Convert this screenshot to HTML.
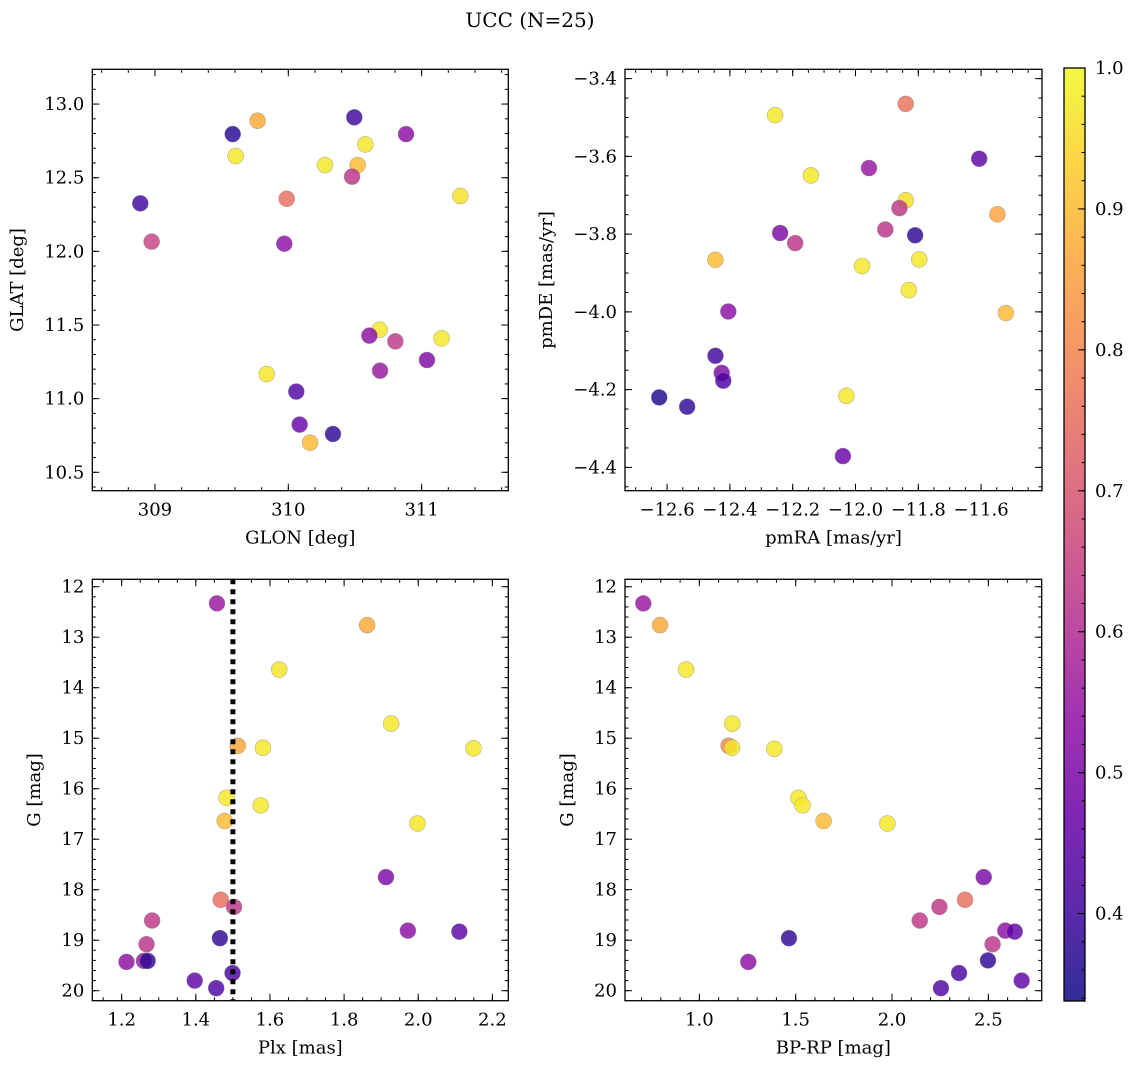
<!DOCTYPE html>
<html><head><meta charset="utf-8"><style>
html,body{margin:0;padding:0;background:#fff;}
svg{display:block;font-family:"DejaVu Serif","Liberation Serif",serif;}
</style></head><body>
<svg id="fig" width="1136" height="1068" viewBox="0 0 1136 1068" xmlns="http://www.w3.org/2000/svg">
<text x="530" y="27" text-anchor="middle" font-size="20">UCC (N=25)</text>
</svg>
<script>
// ---- data ----
const tlGlon=[309.583,309.770,309.605,310.495,310.883,310.578,310.275,310.520,310.478,309.988,311.290,308.890,308.975,309.970,310.685,310.608,310.803,311.150,310.688,311.040,309.838,310.060,310.085,310.335,310.163];
const tlGlat=[12.796,12.887,12.647,12.910,12.796,12.726,12.586,12.586,12.507,12.357,12.376,12.326,12.066,12.052,11.468,11.428,11.389,11.409,11.190,11.262,11.167,11.048,10.824,10.760,10.701];
const tlProb=[0.37,0.87,0.97,0.40,0.53,0.97,0.97,0.90,0.62,0.75,0.96,0.40,0.65,0.53,0.97,0.53,0.63,0.97,0.55,0.50,0.97,0.43,0.47,0.38,0.90];

const trPmra=[-11.84,-12.256,-11.606,-11.957,-12.142,-11.84,-11.86,-11.548,-11.905,-11.81,-12.24,-12.192,-12.446,-11.979,-11.797,-11.83,-12.405,-11.521,-12.446,-12.426,-12.421,-12.029,-12.625,-12.536,-12.04];
const trPmde=[-3.465,-3.494,-3.606,-3.630,-3.649,-3.713,-3.733,-3.749,-3.788,-3.803,-3.797,-3.823,-3.866,-3.882,-3.865,-3.944,-3.999,-4.003,-4.113,-4.157,-4.177,-4.216,-4.220,-4.244,-4.371];
const trProb=[0.76,0.97,0.45,0.55,0.97,0.96,0.63,0.86,0.62,0.38,0.50,0.62,0.90,0.97,0.97,0.97,0.53,0.90,0.40,0.50,0.42,0.97,0.36,0.38,0.47];

const blPlx=[1.457,1.862,1.625,1.927,1.513,1.581,2.149,1.483,1.575,1.478,1.998,1.913,1.467,1.503,1.282,1.972,2.111,1.465,1.267,1.213,1.260,1.270,1.499,1.397,1.455];
const blG=[12.33,12.76,13.64,14.71,15.15,15.19,15.20,16.18,16.33,16.64,16.69,17.75,18.20,18.34,18.61,18.81,18.83,18.96,19.08,19.43,19.41,19.41,19.65,19.80,19.95];
const blProb=[0.55,0.87,0.97,0.97,0.86,0.97,0.97,0.97,0.97,0.90,0.97,0.50,0.75,0.63,0.63,0.53,0.45,0.38,0.62,0.53,0.55,0.38,0.42,0.45,0.43];
const plxLine=[1.5];

const brBprp=[0.709,0.796,0.931,1.171,1.152,1.170,1.389,1.514,1.536,1.645,1.976,2.476,2.379,2.246,2.144,2.588,2.637,1.465,2.522,1.254,2.498,2.348,2.673,2.254];
const brG=[12.33,12.76,13.64,14.71,15.15,15.19,15.21,16.18,16.33,16.64,16.69,17.75,18.20,18.34,18.61,18.81,18.83,18.96,19.08,19.43,19.40,19.65,19.80,19.95];
const brProb=[0.55,0.87,0.97,0.97,0.80,0.97,0.97,0.97,0.97,0.90,0.97,0.50,0.75,0.63,0.63,0.53,0.45,0.38,0.62,0.53,0.38,0.42,0.45,0.43];

const cbTicks=[0.4,0.5,0.6,0.7,0.8,0.9,1.0];
const cbMin=0.338, cbMax=1.0;

// ---- helpers ----
const NS="http://www.w3.org/2000/svg";
const svg=document.getElementById('fig');
function mk(tag,attrs,parent){const e=document.createElementNS(NS,tag);for(const k in attrs)e.setAttribute(k,attrs[k]);(parent||svg).appendChild(e);return e;}
const stops=[[0,'#0d0887'],[0.1,'#41049d'],[0.2,'#6a00a8'],[0.3,'#8f0da4'],[0.4,'#b12a90'],[0.5,'#cc4778'],[0.6,'#e16462'],[0.7,'#f2844b'],[0.8,'#fca636'],[0.9,'#fcce25'],[1,'#f0f921']];
function hex(h){return [parseInt(h.substr(1,2),16),parseInt(h.substr(3,2),16),parseInt(h.substr(5,2),16)];}
function plasma(t){t=Math.max(0,Math.min(1,t));for(let i=1;i<stops.length;i++){if(t<=stops[i][0]){const a=stops[i-1],b=stops[i];const f=(t-a[0])/(b[0]-a[0]);const ca=hex(a[1]),cb=hex(b[1]);return 'rgb('+ca.map((v,j)=>Math.round(v+(cb[j]-v)*f)).join(',')+')';}}return stops[stops.length-1][1];}
function cmap(p){return plasma((p-cbMin)/(cbMax-cbMin));}
function fmt(v,d){let s=v.toFixed(d);return s.replace('-','\u2212');}

function panel(o){
  const g=mk('g',{});
  
  
  const X=v=>o.L+(v-o.x0)/(o.x1-o.x0)*(o.R-o.L);
  const Y=v=>o.inv? o.T+(v-o.y0)/(o.y1-o.y0)*(o.B-o.T) : o.B-(v-o.y0)/(o.y1-o.y0)*(o.B-o.T);
  for(let i=0;i<o.xs.length;i++){
    const c=mk('circle',{cx:X(o.xs[i]),cy:Y(o.ys[i]),r:8,fill:cmap(o.ps[i]),'fill-opacity':0.82,stroke:'#888','stroke-opacity':0.6,'stroke-width':0.6},g);
    
    
  }
  if(o.vline){for(const v of o.vline){const l=mk('line',{x1:X(v),x2:X(v),y1:o.T,y2:o.B,stroke:'#000','stroke-width':5,'stroke-dasharray':'5,5'},g);
    
    }}
  const tk=mk('g',{stroke:'#000','stroke-width':1},g);
  const ticksX=(step,len)=>{let s=Math.ceil(Math.min(o.x0,o.x1)/step-1e-6);for(let k=s;k*step<=Math.max(o.x0,o.x1)+1e-9;k++){const x=X(k*step);mk('line',{x1:x,x2:x,y1:o.B,y2:o.B-len},tk);mk('line',{x1:x,x2:x,y1:o.T,y2:o.T+len},tk);}};
  const ticksY=(step,len)=>{let lo=Math.min(o.y0,o.y1),hi=Math.max(o.y0,o.y1);let s=Math.ceil(lo/step-1e-6);for(let k=s;k*step<=hi+1e-9;k++){const y=Y(k*step);mk('line',{x1:o.L,x2:o.L+len,y1:y,y2:y},tk);mk('line',{x1:o.R,x2:o.R-len,y1:y,y2:y},tk);}};
  ticksX(o.xmin,3.5);ticksX(o.xmaj,7);ticksY(o.ymin,3.5);ticksY(o.ymaj,7);
  mk('rect',{x:o.L,y:o.T,width:o.R-o.L,height:o.B-o.T,fill:'none',stroke:'#000','stroke-width':1.3},g);
  for(const v of o.xl){const t=mk('text',{x:X(v),y:o.B+25,'text-anchor':'middle','font-size':18},g);t.textContent=fmt(v,o.xd);
    }
  for(const v of o.yl){const t=mk('text',{x:o.L-8,y:Y(v)+6,'text-anchor':'end','font-size':18},g);t.textContent=fmt(v,o.yd);
    }
  const xt=mk('text',{x:(o.L+o.R)/2,y:o.B+53,'text-anchor':'middle','font-size':18},g);xt.textContent=o.xlab;
  
  const yc=(o.T+o.B)/2;
  const yt=mk('text',{x:o.ylx,y:yc,'text-anchor':'middle','font-size':18,transform:'rotate(-90 '+o.ylx+' '+yc+')'},g);yt.textContent=o.ylab;
  
}

panel({name:'glon-glat-panel',L:92.3,R:508.3,T:69.3,B:490.7,x0:308.530,x1:311.650,y0:10.375,y1:13.236,
  xs:tlGlon,ys:tlGlat,ps:tlProb,xmaj:1,xmin:0.2,ymaj:0.5,ymin:0.1,xl:[309,310,311],xd:0,yl:[10.5,11,11.5,12,12.5,13],yd:1,xlab:'GLON [deg]',ylab:'GLAT [deg]',ylx:23});
panel({name:'pmra-pmde-panel',L:625,R:1042,T:69.3,B:490.7,x0:-12.734,x1:-11.406,y0:-4.460,y1:-3.376,
  xs:trPmra,ys:trPmde,ps:trProb,xmaj:0.2,xmin:0.05,ymaj:0.2,ymin:0.05,xl:[-12.6,-12.4,-12.2,-12.0,-11.8,-11.6],xd:1,yl:[-4.4,-4.2,-4.0,-3.8,-3.6,-3.4],yd:1,xlab:'pmRA [mas/yr]',ylab:'pmDE [mas/yr]',ylx:552});
panel({name:'plx-g-panel',L:92.3,R:508.3,T:579.3,B:1000.7,x0:1.1207,x1:2.243,y0:11.853,y1:20.198,inv:true,
  xs:blPlx,ys:blG,ps:blProb,vline:plxLine,xmaj:0.2,xmin:0.05,ymaj:1,ymin:0.2,xl:[1.2,1.4,1.6,1.8,2.0,2.2],xd:1,yl:[12,13,14,15,16,17,18,19,20],yd:0,xlab:'Plx [mas]',ylab:'G [mag]',ylx:40});
panel({name:'bprp-g-panel',L:625,R:1041.7,T:579.3,B:1000.7,x0:0.614,x1:2.777,y0:11.853,y1:20.198,inv:true,
  xs:brBprp,ys:brG,ps:brProb,xmaj:0.5,xmin:0.1,ymaj:1,ymin:0.2,xl:[1.0,1.5,2.0,2.5],xd:1,yl:[12,13,14,15,16,17,18,19,20],yd:0,xlab:'BP-RP [mag]',ylab:'G [mag]',ylx:573});

(function(){
  const L=1064,R=1085,T=68,B=1001;
  const g=mk('g',{});
  
  
  const defs=mk('defs',{},g);
  const lg=mk('linearGradient',{id:'cbg',x1:0,y1:1,x2:0,y2:0},defs);
  for(let i=0;i<=20;i++){const f=i/20;mk('stop',{offset:f,'stop-color':plasma(f),'stop-opacity':0.85},lg);}
  mk('rect',{x:L,y:T,width:R-L,height:B-T,fill:'url(#cbg)'},g);
  const Y=v=>B-(v-cbMin)/(cbMax-cbMin)*(B-T);
  for(let v=0.34;v<=1.0001;v+=0.02){mk('line',{x1:R,x2:R-3.5,y1:Y(v),y2:Y(v),stroke:'#000'},g);}
  for(const v of cbTicks){mk('line',{x1:R,x2:R-7,y1:Y(v),y2:Y(v),stroke:'#000'},g);
    const t=mk('text',{x:R+10,y:Y(v)+6,'font-size':18},g);t.textContent=v.toFixed(1);
    }
  mk('rect',{x:L,y:T,width:R-L,height:B-T,fill:'none',stroke:'#000','stroke-width':1.3},g);
})();
</script>
</body></html>
